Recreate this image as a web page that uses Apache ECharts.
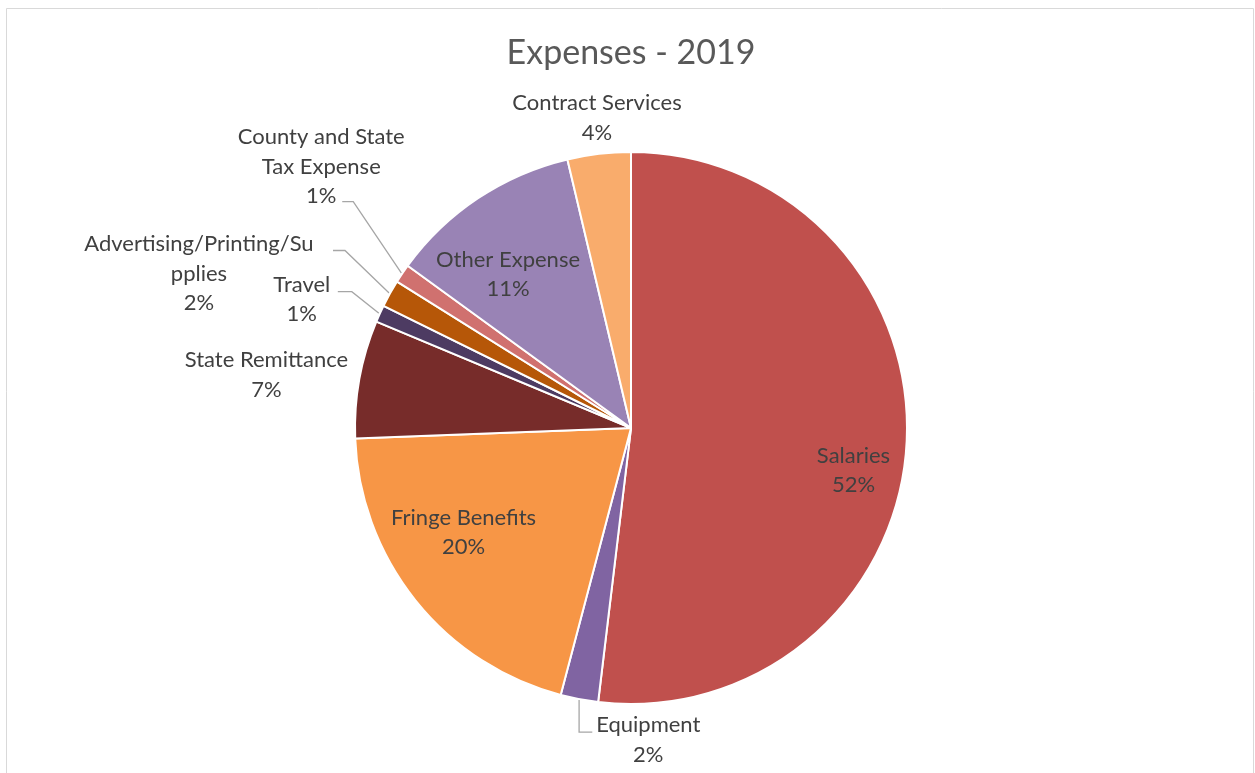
<!DOCTYPE html>
<html>
<head>
<meta charset="utf-8">
<script src="https://cdn.jsdelivr.net/npm/echarts@6/dist/echarts.min.js"></script>
<style>
html,body{margin:0;padding:0;background:#ffffff;}
#chart{width:1255px;height:773px;}
</style>
</head>
<body>
<div id="chart"></div>
<script>
// ---------------- data ----------------
const chartTitle = 'Expenses - 2019';
const categories = [
  'Salaries',
  'Equipment',
  'Fringe Benefits',
  'State Remittance',
  'Travel',
  'Advertising/Printing/Supplies',
  'County and State Tax Expense',
  'Other Expense',
  'Contract Services'
];
const shares = [51.9, 2.2, 20.3, 6.9, 1.0, 1.6, 1.1, 11.3, 3.7];

// ---------------- style config ----------------
const sliceColors = ['#C0504D', '#8064A2', '#F79646', '#772C2A', '#4D3B62',
                     '#B65708', '#D0716F', '#9983B5', '#F9AC6C'];
const wrappedNames = {
  'Advertising/Printing/Supplies': 'Advertising/Printing/Su\npplies',
  'County and State Tax Expense': 'County and State\nTax Expense'
};
const insideIdx = [0, 2, 7];
// label block centre offset from the slice's outer mid-point
const labelOffsets = [[-53, 26], [69, 41], [48, -68], [-93, -4], [-78, -14],
                      [-191, -20], [-81, -107], [30, 76], [-2, -36]];
// leader lines: end point relative to label centre, elbow length
const leaders = {
  1: {end: [-56, -8], vertical: true},
  4: {end: [36, -8], elbow: 14},
  5: {end: [134, -23], elbow: 12},
  6: {end: [21, 35], elbow: 11}
};
const PIE_CENTER = [631, 428];
const PIE_RADIUS = 276;
const FONT = 'Lato, "Noto Sans", sans-serif';

const chart = echarts.init(document.getElementById('chart'), null, {renderer: 'canvas'});

function sliceGeom(i) {
  try {
    const lay = chart.getModel().getSeriesByIndex(0).getData().getItemLayout(i);
    if (lay && lay.r != null) return lay;
  } catch (e) {}
  const total = shares.reduce((a, b) => a + b, 0);
  let acc = 0;
  for (let k = 0; k < i; k++) acc += shares[k];
  const s = -Math.PI / 2 + acc / total * 2 * Math.PI;
  const e = s + shares[i] / total * 2 * Math.PI;
  return {cx: PIE_CENTER[0], cy: PIE_CENTER[1], r: PIE_RADIUS, startAngle: s, endAngle: e};
}

const option = {
  backgroundColor: '#ffffff',
  animation: false,
  graphic: [
    {
      type: 'rect', silent: true, z: -10,
      shape: {x: 6.5, y: 8.5, width: 1247, height: 800},
      style: {fill: '#ffffff', stroke: '#D9D9D9', lineWidth: 1}
    },
    {
      type: 'text', silent: true,
      x: 631, y: 53,
      style: {
        text: chartTitle, fill: '#595959',
        font: '34px ' + FONT,
        align: 'center', verticalAlign: 'middle'
      }
    }
  ],
  series: [{
    type: 'pie',
    center: PIE_CENTER,
    radius: PIE_RADIUS,
    startAngle: 90,
    clockwise: true,
    avoidLabelOverlap: false,
    silent: true,
    itemStyle: {borderColor: '#ffffff', borderWidth: 2},
    label: {
      formatter: function (p) {
        return (wrappedNames[p.name] || p.name) + '\n' + Math.round(p.percent) + '%';
      },
      color: '#404040',
      fontSize: 22,
      fontFamily: FONT,
      lineHeight: 29.5,
      align: 'center'
    },
    labelLine: {
      length: 10, length2: 10,
      lineStyle: {color: '#A6A6A6', width: 1.3}
    },
    labelLayout: function (p) {
      const i = p.dataIndex;
      const g = sliceGeom(i);
      const mid = (g.startAngle + g.endAngle) / 2;
      const ax = g.cx + g.r * Math.cos(mid);
      const ay = g.cy + g.r * Math.sin(mid);
      const off = labelOffsets[i];
      const lx = ax + off[0], ly = ay + off[1];
      const res = {x: lx, y: ly, align: 'center', verticalAlign: 'middle'};
      const L = leaders[i];
      if (L) {
        const sx = g.cx + (g.r + 1) * Math.cos(mid);
        const sy = g.cy + (g.r + 1) * Math.sin(mid);
        const ex = lx + L.end[0], ey = ly + L.end[1];
        if (L.vertical) {
          res.labelLinePoints = [[sx, sy], [sx, ey], [ex, ey]];
        } else {
          res.labelLinePoints = [[sx, sy], [ex + L.elbow, ey], [ex, ey]];
        }
      }
      return res;
    },
    data: categories.map(function (name, i) {
      const inside = insideIdx.indexOf(i) >= 0;
      return {
        name: name,
        value: shares[i],
        itemStyle: {color: sliceColors[i]},
        label: {position: inside ? 'inside' : 'outside'},
        labelLine: {show: !!leaders[i]}
      };
    })
  }]
};
chart.setOption(option);
</script>
</body>
</html>
